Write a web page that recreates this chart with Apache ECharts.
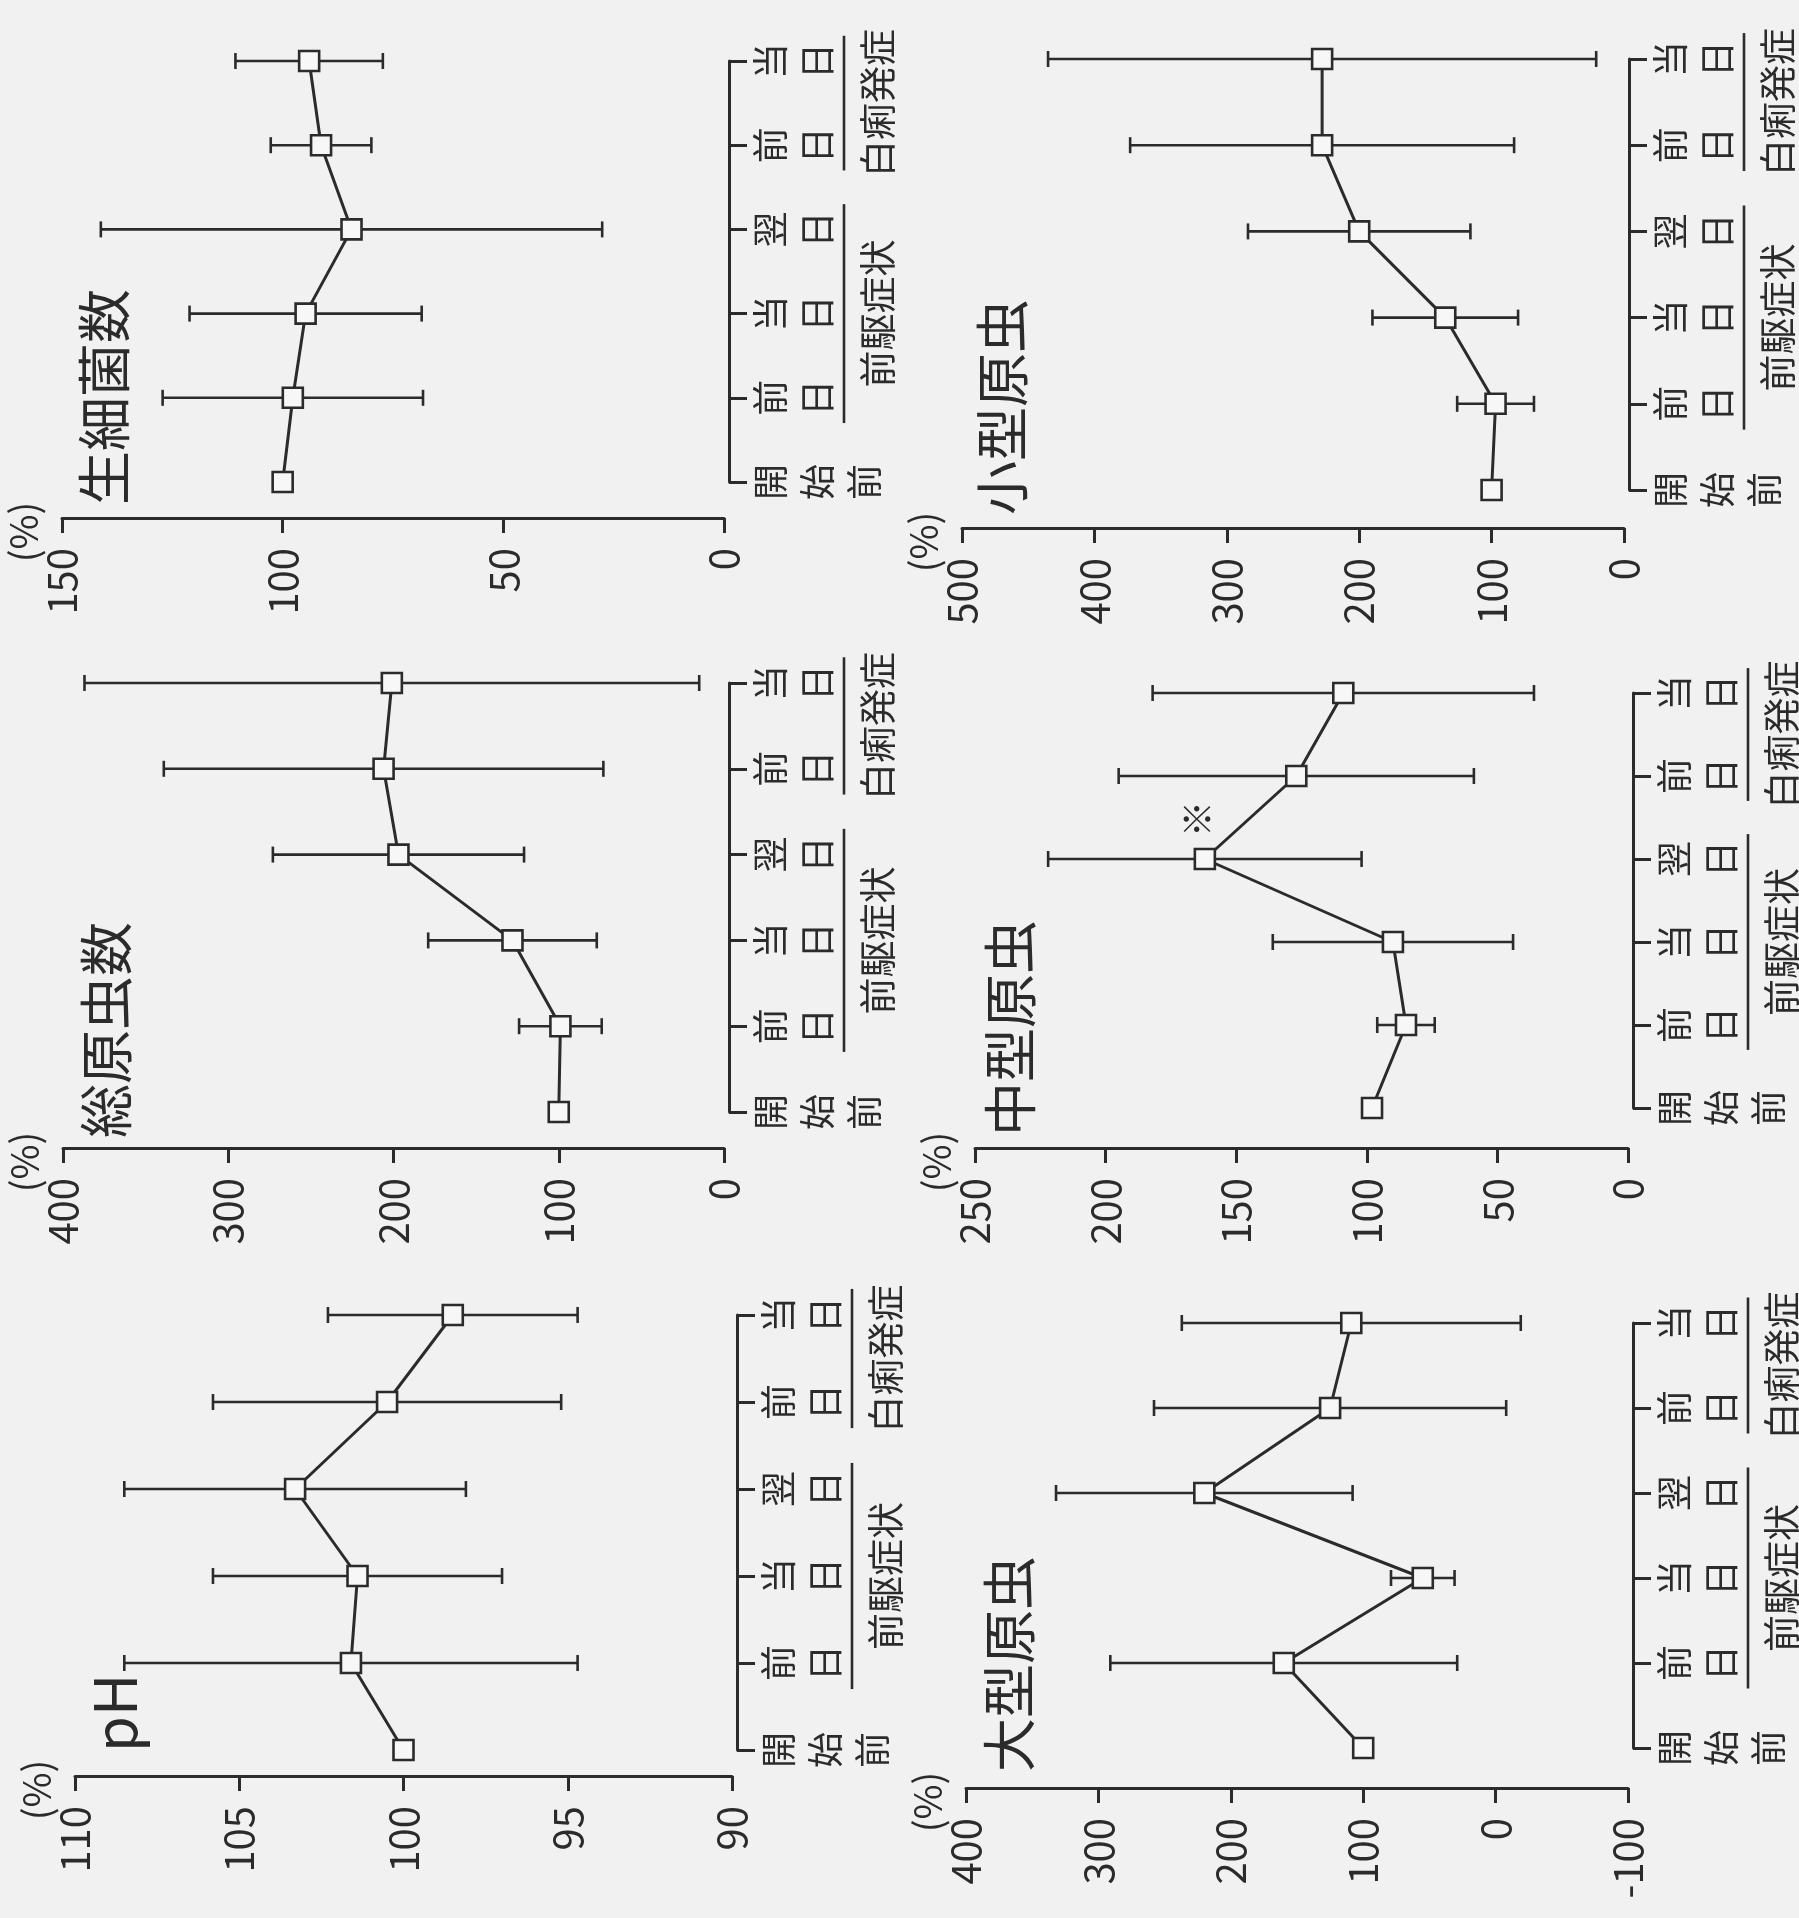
<!DOCTYPE html>
<html><head><meta charset="utf-8">
<script src="https://cdn.jsdelivr.net/npm/echarts@6/dist/echarts.min.js"></script>
<style>html,body{margin:0;padding:0;background:#f2f1f2}#c{width:1799px;height:1918px}</style>
</head><body><div id="c"></div>
<script>
// ---------- data ----------
const categories = ['開始前', '前日', '当日', '翌日', '前日', '当日'];
const groupLabels = ['前駆症状', '白痢発症'];
const groupSpans = [[1, 3], [4, 5]];

const phMean = [100, 101.6, 101.4, 103.3, 100.5, 98.5];
const phSD = [0, 6.9, 4.4, 5.2, 5.3, 3.8];
const phTicks = [90, 95, 100, 105, 110];

const totalMean = [100, 99, 128, 197, 206, 201];
const totalSD = [0, 25, 51, 76, 133, 186];
const totalTicks = [0, 100, 200, 300, 400];

const bactMean = [100, 97.7, 94.8, 84.4, 91.3, 94];
const bactSD = [0, 29.5, 26.3, 56.8, 11.4, 16.7];
const bactTicks = [0, 50, 100, 150];

const largeMean = [100, 160, 55, 220, 125, 109];
const largeSD = [0, 131, 24, 112, 133, 128];
const largeTicks = [-100, 0, 100, 200, 300, 400];

const mediumMean = [98, 85, 90, 162, 127, 109];
const mediumSD = [0, 11, 46, 60, 68, 73];
const mediumTicks = [0, 50, 100, 150, 200, 250];
const mediumNote = '※';
const mediumNoteIndex = 3;

const smallMean = [100, 97, 135, 200, 228, 228];
const smallSD = [0, 29, 55, 84, 145, 207];
const smallTicks = [0, 100, 200, 300, 400, 500];

// ---------- layout (the figure is shown rotated 90° counter-clockwise) ----------
const W = 1799, H = 1918;
const INK = '#2b2b2b', FILL = '#f8f7f8', BG = '#f2f1f2';
const F = '"Noto Sans CJK JP", "Noto Sans", sans-serif';
const panels = [
  {title: '生細菌数', mean: bactMean, sd: bactSD, ticks: bactTicks, left: 62, rightX: 724, topY: 61, bottomY: 482, axisY: 518, tx: 104, ty: 505},
  {title: '小型原虫', mean: smallMean, sd: smallSD, ticks: smallTicks, left: 962, rightX: 1624, topY: 59, bottomY: 490, axisY: 528, tx: 1002, ty: 515},
  {title: '総原虫数', mean: totalMean, sd: totalSD, ticks: totalTicks, left: 63, rightX: 724, topY: 683, bottomY: 1112, axisY: 1148, tx: 106, ty: 1138},
  {title: '中型原虫', mean: mediumMean, sd: mediumSD, ticks: mediumTicks, left: 975, rightX: 1628, topY: 693, bottomY: 1108, axisY: 1148, tx: 1010, ty: 1136, note: mediumNote, noteIndex: mediumNoteIndex},
  {title: 'pH', mean: phMean, sd: phSD, ticks: phTicks, left: 75, rightX: 732, topY: 1315, bottomY: 1750, axisY: 1776, tx: 115, ty: 1752},
  {title: '大型原虫', mean: largeMean, sd: largeSD, ticks: largeTicks, left: 966, rightX: 1628, topY: 1323, bottomY: 1748, axisY: 1788, tx: 1009, ty: 1772}
];

function errRender(params, api) {
  const i = api.value(0), lo = api.value(1), hi = api.value(2);
  const a = api.coord([lo, i]), b = api.coord([hi, i]);
  const h = 8, st = {stroke: INK, lineWidth: 2.6};
  return {type: 'group', children: [
    {type: 'line', shape: {x1: a[0], y1: a[1], x2: b[0], y2: b[1]}, style: st},
    {type: 'line', shape: {x1: a[0], y1: a[1] - h, x2: a[0], y2: a[1] + h}, style: st},
    {type: 'line', shape: {x1: b[0], y1: b[1] - h, x2: b[0], y2: b[1] + h}, style: st}
  ]};
}
function groupRender(params, api) {
  const x = api.value(0);
  const p0 = api.coord([x, api.value(1)]), p1 = api.coord([x, api.value(2)]);
  const lx = p0[0] + 120, tx = p0[0] + 154, cy = (p0[1] + p1[1]) / 2;
  return {type: 'group', children: [
    {type: 'line', shape: {x1: lx, y1: p0[1], x2: lx, y2: p1[1]}, style: {stroke: INK, lineWidth: 2.6}},
    {type: 'text', x: tx, y: cy, rotation: Math.PI / 2,
     style: {text: groupLabels[params.dataIndex], fontSize: 37, fontFamily: F, fill: INK,
             align: 'center', verticalAlign: 'middle', textAlign: 'center', textVerticalAlign: 'middle'}}
  ]};
}
function noteRender(text) {
  return function (params, api) {
    const c = api.coord([api.value(1), api.value(0)]);
    return {type: 'text', x: c[0] - 8, y: c[1] - 40, rotation: Math.PI / 2,
      style: {text: text, fontSize: 36, fontFamily: F, fill: INK,
              align: 'center', verticalAlign: 'middle', textAlign: 'center', textVerticalAlign: 'middle'}};
  };
}

const grid = [], xAxis = [], yAxis = [], series = [], graphic = [];
panels.forEach((p, k) => {
  const t = p.ticks;
  grid.push({left: p.left, right: W - p.rightX, top: p.topY, bottom: H - p.bottomY, outerBoundsMode: 'none', containLabel: false});
  xAxis.push({
    type: 'value', gridIndex: k, inverse: true, min: t[0], max: t[t.length - 1], interval: t[1] - t[0],
    position: 'bottom', offset: p.axisY - p.bottomY,
    name: '(%)', nameLocation: 'end', nameGap: -10, nameRotate: 90,
    nameTextStyle: {fontSize: 38, color: INK, fontFamily: F, padding: [0, 28, 0, 0]},
    axisLine: {show: true, onZero: false, lineStyle: {color: INK, width: 3}},
    axisTick: {show: true, length: 15, lineStyle: {color: INK, width: 3}},
    axisLabel: {rotate: 90, fontSize: 40, margin: 30, color: INK, fontFamily: F},
    splitLine: {show: false}
  });
  yAxis.push({
    type: 'category', gridIndex: k, data: categories, boundaryGap: false, position: 'right', offset: 5,
    axisLine: {show: true, onZero: false, lineStyle: {color: INK, width: 3}},
    axisTick: {show: true, length: 18, lineStyle: {color: INK, width: 3}},
    axisLabel: {rotate: 90, interval: 0, margin: 18, fontSize: 36, lineHeight: 47, color: INK, fontFamily: F,
                formatter: s => s.split('').join('\n')},
    splitLine: {show: false}
  });
  yAxis.push({type: 'value', gridIndex: k, min: 0, max: categories.length - 1, show: false,
              axisLine: {onZero: false}, splitLine: {show: false}});

  series.push({
    type: 'custom', xAxisIndex: k, yAxisIndex: 2 * k, renderItem: errRender, silent: true, z: 2,
    data: p.mean.map((m, i) => [i, m - p.sd[i], m + p.sd[i]]).filter((d, i) => p.sd[i] > 0),
    encode: {x: [1, 2], y: 0}
  });
  series.push({
    type: 'line', xAxisIndex: k, yAxisIndex: 2 * k, z: 3, silent: true,
    data: p.mean.map((m, i) => [m, i]),
    symbol: 'rect', symbolSize: 20,
    lineStyle: {color: INK, width: 3},
    itemStyle: {color: FILL, borderColor: INK, borderWidth: 2.6}
  });
  series.push({
    type: 'custom', xAxisIndex: k, yAxisIndex: 2 * k + 1, renderItem: groupRender, silent: true, z: 2,
    data: groupSpans.map(s => [t[0], s[0] - 0.3, s[1] + 0.3]),
    encode: {x: 0, y: [1, 2]}
  });
  if (p.note) {
    series.push({
      type: 'custom', xAxisIndex: k, yAxisIndex: 2 * k, renderItem: noteRender(p.note), silent: true, z: 4,
      data: [[p.noteIndex, p.mean[p.noteIndex]]], encode: {x: 1, y: 0}
    });
  }
  graphic.push({type: 'text', x: p.tx, y: p.ty, rotation: Math.PI / 2,
    style: {text: p.title, fontSize: p.title === 'pH' ? 58 : 54, fontFamily: F, fill: INK,
            align: 'left', verticalAlign: 'middle', textAlign: 'left', textVerticalAlign: 'middle'}});
});

const chart = echarts.init(document.getElementById('c'), null, {renderer: 'canvas'});
chart.setOption({backgroundColor: BG, animation: false, grid, xAxis, yAxis, series, graphic});
</script></body></html>
